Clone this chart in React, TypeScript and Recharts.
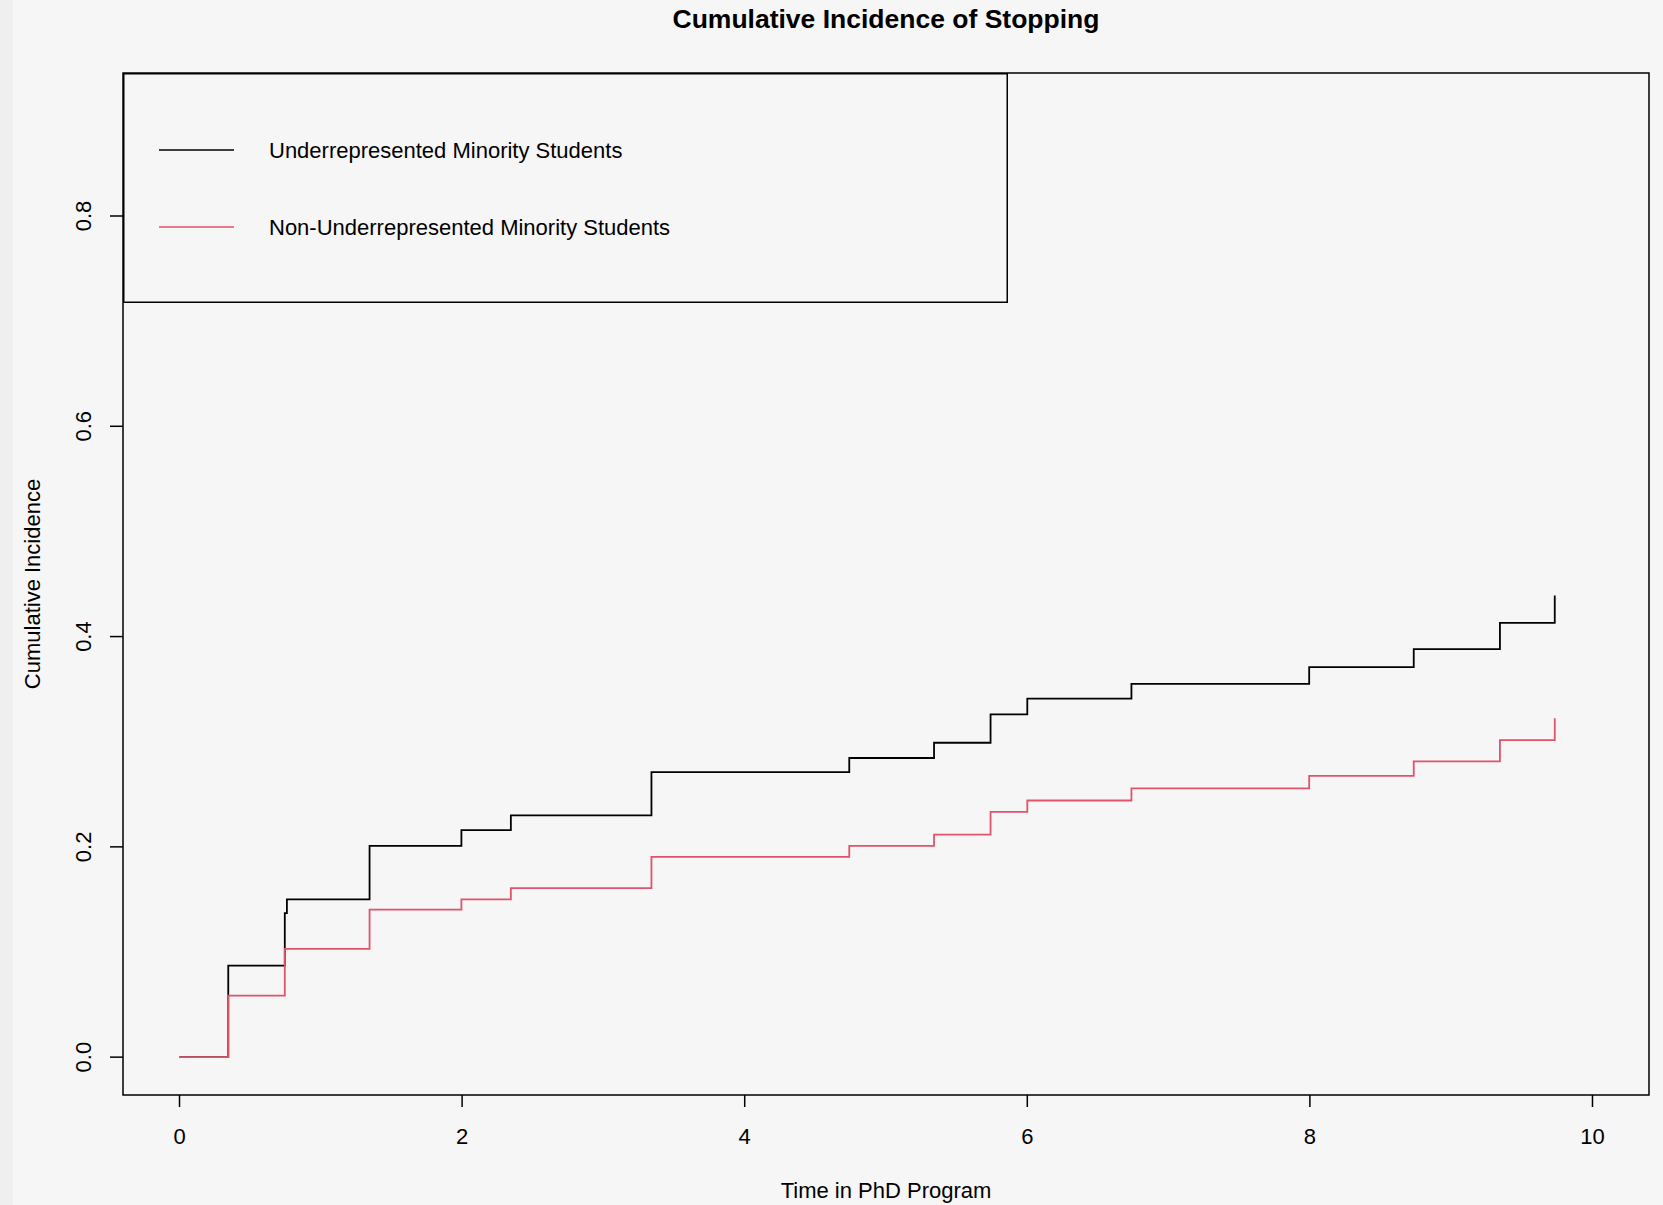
import { LineChart, Line, XAxis, YAxis, ReferenceArea, Legend } from "recharts";

const font = '"Liberation Sans", Arial, Helvetica, sans-serif';

const seriesNames = ["Underrepresented Minority Students", "Non-Underrepresented Minority Students"];

// step times (years) and cumulative incidence
const urmTimes = [0, 0.345, 0.745, 0.76, 1.345, 1.995, 2.345, 3.34, 4.74, 5.34, 5.74, 6.0, 6.737, 7.995, 8.735, 9.345, 9.733];
const urmCI = [0, 0.087, 0.137, 0.15, 0.201, 0.216, 0.23, 0.271, 0.2845, 0.299, 0.326, 0.341, 0.355, 0.371, 0.388, 0.413, 0.439];

const nonUrmTimes = [0, 0.345, 0.745, 1.345, 1.995, 2.345, 3.34, 4.74, 5.34, 5.74, 6.0, 6.737, 7.995, 8.735, 9.345, 9.733];
const nonUrmCI = [0, 0.0585, 0.103, 0.1403, 0.15, 0.1607, 0.1905, 0.201, 0.2117, 0.2333, 0.2441, 0.2556, 0.2676, 0.2813, 0.3016, 0.3222];

const xTicks = [0, 2, 4, 6, 8, 10];
const yTicks = [0, 0.2, 0.4, 0.6, 0.8];

const urmData = urmTimes.map((t, i) => ({ t, ci: urmCI[i] }));
const nonUrmData = nonUrmTimes.map((t, i) => ({ t, ci: nonUrmCI[i] }));

function XTick(props: any) {
  const { x, y, payload } = props;
  return (
    <text x={x} y={y + 35} textAnchor="middle" fontSize={22} fontFamily={font} fill="#000">
      {payload.value}
    </text>
  );
}

function YTick(props: any) {
  const { x, y, payload } = props;
  const tx = x - 17;
  return (
    <text
      x={tx}
      y={y}
      transform={`rotate(-90, ${tx}, ${y})`}
      textAnchor="middle"
      fontSize={22}
      fontFamily={font}
      fill="#000"
    >
      {Number(payload.value).toFixed(1)}
    </text>
  );
}

function LegendBox({ payload }: any) {
  // keep the series order, recharts sorts legend items by name
  const items = [...(payload || [])].sort(
    (a: any, b: any) => seriesNames.indexOf(a.value) - seriesNames.indexOf(b.value)
  );
  return (
    <svg width={885} height={230} style={{ display: "block" }}>
      <rect x={0.75} y={0.75} width={883.5} height={228.5} fill="none" stroke="#000" strokeWidth={1.5} />
      {items.map((p: any, i: number) => {
        const cy = 77 + i * 77;
        return (
          <g key={i}>
            <line x1={36} x2={111} y1={cy} y2={cy} stroke={p.color} strokeWidth={1.6} />
            <text x={146} y={cy + 8} fontSize={22} fontFamily={font} fill="#000">
              {p.value}
            </text>
          </g>
        );
      })}
    </svg>
  );
}

export default function App() {
  return (
    <div style={{ position: "absolute", left: 0, top: 0, width: 1663, height: 1205, background: "#f6f6f6" }}>
      <div style={{ position: "absolute", left: 0, top: 0, width: 13, height: 1205, background: "#efefef" }} />
      <LineChart width={1663} height={1205} margin={{ top: 73, right: 14, bottom: 0, left: 0 }}>
        <XAxis
          dataKey="t"
          type="number"
          domain={[-0.4, 10.4]}
          ticks={xTicks}
          interval={0}
          allowDataOverflow
          axisLine={false}
          tickLine={{ stroke: "#000", strokeWidth: 1.5 }}
          tickSize={12}
          height={110}
          tick={<XTick />}
        />
        <YAxis
          type="number"
          domain={[-0.036, 0.936]}
          ticks={yTicks}
          interval={0}
          allowDataOverflow
          axisLine={false}
          tickLine={{ stroke: "#000", strokeWidth: 1.5 }}
          tickSize={13}
          width={123}
          tick={<YTick />}
        />
        <ReferenceArea x1={-0.4} x2={10.4} y1={-0.036} y2={0.936} fill="none" stroke="#000" strokeWidth={1.5} />
        <Legend
          layout="horizontal"
          verticalAlign="middle"
          align="center"
          wrapperStyle={{ position: "absolute", left: 123, top: 73, width: 885, height: 230 }}
          content={<LegendBox />}
        />
        <Line
          data={urmData}
          dataKey="ci"
          name={seriesNames[0]}
          type="stepAfter"
          stroke="#000000"
          strokeWidth={1.8}
          dot={false}
          activeDot={false}
          isAnimationActive={false}
        />
        <Line
          data={nonUrmData}
          dataKey="ci"
          name={seriesNames[1]}
          type="stepAfter"
          stroke="#DF536B"
          strokeWidth={1.8}
          dot={false}
          activeDot={false}
          isAnimationActive={false}
        />
      </LineChart>
      <svg
        width={1663}
        height={1205}
        style={{ position: "absolute", left: 0, top: 0, pointerEvents: "none" }}
      >
        <text x={886} y={28} textAnchor="middle" fontSize={26.5} fontWeight="bold" fontFamily={font} fill="#000">
          Cumulative Incidence of Stopping
        </text>
        <text x={886} y={1198} textAnchor="middle" fontSize={22} fontFamily={font} fill="#000">
          Time in PhD Program
        </text>
        <text
          x={39.5}
          y={584}
          transform="rotate(-90, 39.5, 584)"
          textAnchor="middle"
          fontSize={22}
          fontFamily={font}
          fill="#000"
        >
          Cumulative Incidence
        </text>
      </svg>
    </div>
  );
}
